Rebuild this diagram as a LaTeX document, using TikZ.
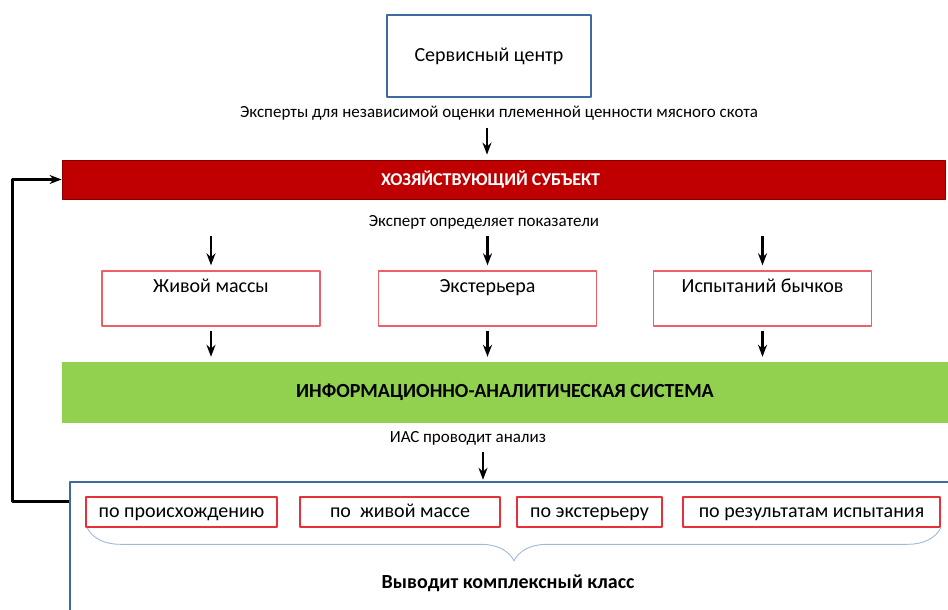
\documentclass[tikz,border=0pt]{standalone}
\usepackage{fontspec}
\setmainfont{Carlito}
\usetikzlibrary{arrows.meta,decorations.pathreplacing}
\definecolor{sinij}{RGB}{62,106,160}
\definecolor{krasnyj}{RGB}{192,0,0}
\definecolor{zelenyj}{RGB}{146,208,80}
\definecolor{rozovyj}{RGB}{238,96,104}
\definecolor{alyj}{RGB}{232,48,58}
\definecolor{skobka}{RGB}{160,185,215}
\newcommand{\razm}[1]{\fontsize{#1}{#1}\selectfont}
\begin{document}
\begin{tikzpicture}[x=1pt, y=-1pt, line join=round, >={Stealth[length=12pt,width=9pt]},
	strelka/.style={->, line width=2.6pt, shorten <=4pt, shorten >=5pt},
	pokaz/.style={draw=rozovyj, line width=1.4pt, minimum width=218pt, inner sep=5pt, text height=16pt, text depth=29pt, font=\razm{20}},
	klass/.style={draw=alyj, line width=1.6pt, minimum height=30pt, inner sep=0pt, text height=14pt, text depth=4pt, font=\razm{20}},
	podpis/.style={font=\razm{17}}]
	\useasboundingbox (0,0) rectangle (948,610);
	\clip (0,0) rectangle (948,610);
	% верх
	\node[draw=sinij, line width=2.5pt, fill=white, minimum width=204pt, minimum height=82pt, font=\razm{20}] (centr) at (489,56) {Сервисный центр};
	\node[podpis] (eksp) at (499,113) {Эксперты для независимой оценки племенной ценности мясного скота};
	\node[fill=krasnyj, draw=krasnyj!70!black, line width=0.8pt, minimum width=883pt, minimum height=39pt, text=white, font=\bfseries\razm{18}] (subj) at (503.5,179.5) {\hspace*{-26pt}ХОЗЯЙСТВУЮЩИЙ СУБЪЕКТ};
	\node[podpis] (opred) at (484,222) {Эксперт определяет показатели};
	% показатели
	\node[pokaz] (zhiv) at (211,298.5) {Живой массы};
	\node[pokaz] (ekst) at (487.5,298.5) {Экстерьера};
	\node[pokaz] (ispyt) at (762.5,298.5) {Испытаний бычков};
	\node[fill=zelenyj, minimum width=886pt, minimum height=61pt, font=\bfseries\razm{20}] (ias) at (505,392.5) {ИНФОРМАЦИОННО-АНАЛИТИЧЕСКАЯ СИСТЕМА};
	\node[podpis] (analiz) at (468,438) {ИАС проводит анализ};
	% низ
	\node[draw=sinij, line width=2.5pt, minimum width=890pt, minimum height=143pt] (vyvod) at (515,553.5) {};
	\node[klass, minimum width=191pt] (proish) at (181.5,512) {по происхождению};
	\node[klass, minimum width=200pt] (massa) at (400,512) {по \ живой массе};
	\node[klass, minimum width=145pt] (eksterer) at (589.5,512) {по экстерьеру};
	\node[klass, minimum width=257pt] (rezult) at (811.5,512) {по результатам испытания};
	\draw[skobka, line width=0.9pt, decorate, decoration={brace, mirror, amplitude=33pt}] ([xshift=2pt]proish.south west) -- (rezult.south east);
	\node[font=\bfseries\razm{20}] (kompl) at (508,583) {Выводит комплексный класс};
	% стрелки
	\draw[strelka] ([xshift=-12pt]eksp.south) -- ([xshift=-12pt]eksp.south |- subj.north);
	\foreach \i in {zhiv,ekst,ispyt} \draw[strelka] (opred.south -| \i.north) -- (\i.north);
	\foreach \i in {zhiv,ekst,ispyt} \draw[strelka] (\i.south) -- (\i.south |- ias.north);
	\draw[strelka, shorten >=1pt] ([xshift=15pt]analiz.south) -- ([xshift=15pt]analiz.south |- vyvod.north);
	\draw[line width=3.2pt, ->] ([yshift=-21pt]vyvod.north west) -- ++(-56,0) |- (subj.west);
\end{tikzpicture}
\end{document}
